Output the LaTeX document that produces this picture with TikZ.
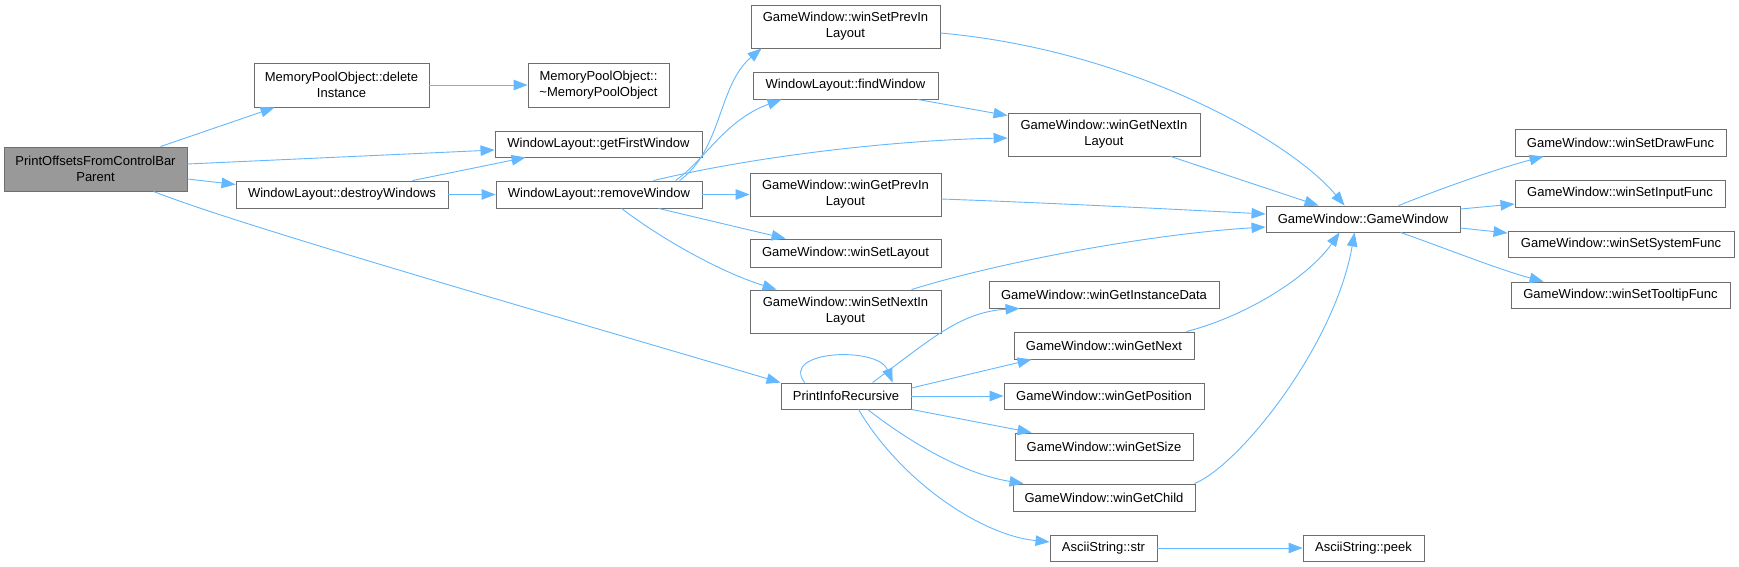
\documentclass[tikz,border=0pt]{standalone}
\usepackage{fontspec}
\setmainfont{Liberation Sans}
\usetikzlibrary{arrows.meta,calc}
\definecolor{edgec}{HTML}{63B8FF}
\definecolor{boxc}{HTML}{6E6E6E}
\definecolor{rootc}{HTML}{999999}
\begin{document}
\begin{tikzpicture}[x=1pt,y=-1pt,
  box/.style={draw=boxc, line width=0.9pt, fill=white, inner sep=0pt, align=center, font=\fontsize{13}{16}\selectfont},
  rootbox/.style={box, fill=rootc},
  edge/.style={draw=edgec, line width=0.9pt, -{Triangle[length=14pt,width=10.5pt]}}]
\useasboundingbox[fill=white] (0,0) rectangle (1739,567);
% nodes
\node[rootbox, minimum width=183pt, minimum height=44pt] (root) at (95.5,169) {PrintOffsetsFromControlBar\\Parent};
\node[box, minimum width=175pt, minimum height=44pt] (delI) at (341.5,85) {MemoryPoolObject::delete\\Instance};
\node[box, minimum width=141pt, minimum height=44pt] (dtor) at (598.5,85) {MemoryPoolObject::\\\textasciitilde MemoryPoolObject};
\node[box, minimum width=207pt, minimum height=26pt] (gfw) at (598.5,144) {WindowLayout::getFirstWindow};
\node[box, minimum width=212pt, minimum height=27pt] (dW) at (342,194.5) {WindowLayout::destroyWindows};
\node[box, minimum width=206pt, minimum height=27pt] (rW) at (599,194.5) {WindowLayout::removeWindow};
\node[box, minimum width=189pt, minimum height=43pt] (sPIL) at (845.5,26.5) {GameWindow::winSetPrevIn\\Layout};
\node[box, minimum width=185pt, minimum height=27pt] (fW) at (845.5,85.5) {WindowLayout::findWindow};
\node[box, minimum width=192pt, minimum height=43pt] (gNIL) at (1104,134.5) {GameWindow::winGetNextIn\\Layout};
\node[box, minimum width=191pt, minimum height=43pt] (gPIL) at (845.5,194.5) {GameWindow::winGetPrevIn\\Layout};
\node[box, minimum width=191pt, minimum height=28pt] (sL) at (845.5,253) {GameWindow::winSetLayout};
\node[box, minimum width=191pt, minimum height=43pt] (sNIL) at (845.5,311.5) {GameWindow::winSetNextIn\\Layout};
\node[box, minimum width=230pt, minimum height=27pt] (gID) at (1104,294.5) {GameWindow::winGetInstanceData};
\node[box, minimum width=180pt, minimum height=27pt] (gN) at (1104,345.5) {GameWindow::winGetNext};
\node[box, minimum width=200pt, minimum height=26pt] (gP) at (1104,396) {GameWindow::winGetPosition};
\node[box, minimum width=178pt, minimum height=27pt] (gS) at (1104,446.5) {GameWindow::winGetSize};
\node[box, minimum width=182pt, minimum height=27pt] (gC) at (1104,497.5) {GameWindow::winGetChild};
\node[box, minimum width=130pt, minimum height=26pt] (PIR) at (846,396) {PrintInfoRecursive};
\node[box, minimum width=107pt, minimum height=26pt] (str) at (1103.5,548) {AsciiString::str};
\node[box, minimum width=121pt, minimum height=26pt] (peek) at (1363.5,548) {AsciiString::peek};
\node[box, minimum width=194pt, minimum height=26pt] (GW) at (1363,219) {GameWindow::GameWindow};
\node[box, minimum width=211pt, minimum height=27pt] (dF) at (1620.5,142.5) {GameWindow::winSetDrawFunc};
\node[box, minimum width=210pt, minimum height=27pt] (iF) at (1620,193.5) {GameWindow::winSetInputFunc};
\node[box, minimum width=226pt, minimum height=26pt] (sF) at (1621,244) {GameWindow::winSetSystemFunc};
\node[box, minimum width=219pt, minimum height=26pt] (tF) at (1620.5,295) {GameWindow::winSetTooltipFunc};
% edges
\draw[edge] ($(root.north west)+(157,0)$) -- ($(delI.south west)+(21,0)$);
\draw[edge] ($(root.east)+(0,-5)$) -- ($(gfw.west)+(0,6)$);
\draw[edge] ($(root.east)+(0,10)$) -- ($(dW.west)+(0,-10)$);
\draw[edge] ($(root.south west)+(150,0)$) .. controls (230,222) and (500,300) .. (PIR.north west);
\draw[edge] (delI.east) -- (dtor.west);
\draw[edge] ($(dW.north west)+(177,0)$) -- ($(gfw.south west)+(31,0)$);
\draw[edge] (dW.east) -- (rW.west);
\draw[edge] ($(rW.north west)+(184,0)$) .. controls (722,150) and (718,85) .. ($(sPIL.south west)+(11,0)$);
\draw[edge] ($(rW.north west)+(180,0)$) .. controls (705,160) and (725,120) .. ($(fW.south west)+(29,0)$);
\draw[edge] ($(rW.north west)+(158,0)$) .. controls (760,155) and (900,140) .. ($(gNIL.west)+(0,3.5)$);
\draw[edge] (rW.east) -- (gPIL.west);
\draw[edge] ($(rW.south west)+(163,0)$) -- ($(sL.north west)+(36,0)$);
\draw[edge] ($(rW.south west)+(126,0)$) .. controls (660,238) and (720,272) .. ($(sNIL.north west)+(27,0)$);
\draw[edge] ($(sPIL.east)+(0,6.5)$) .. controls (1130,50) and (1290,140) .. ($(GW.north west)+(79,0)$);
\draw[edge] ($(fW.south west)+(165,0)$) -- ($(gNIL.north west)+(0,3)$);
\draw[edge] ($(gNIL.south west)+(163,0)$) -- ($(GW.north west)+(53,0)$);
\draw[edge] ($(gPIL.east)+(0,4.5)$) .. controls (1050,203) and (1150,208) .. ($(GW.west)+(0,-5)$);
\draw[edge] ($(sNIL.north west)+(162,0)$) .. controls (1000,262) and (1150,234) .. ($(GW.west)+(0,8)$);
\draw[edge] ($(PIR.north west)+(24,0)$) .. controls (780,350) and (878,346) .. ($(PIR.north west)+(112,0)$);
\draw[edge] ($(PIR.north west)+(92,0)$) .. controls (930,340) and (960,312) .. ($(gID.south west)+(31,0)$);
\draw[edge] ($(PIR.east)+(0,-8)$) -- ($(gN.south west)+(18,0)$);
\draw[edge] (PIR.east) -- (gP.west);
\draw[edge] (PIR.south east) -- ($(gS.north west)+(17,0)$);
\draw[edge] ($(PIR.south west)+(87,0)$) .. controls (920,450) and (970,475) .. ($(gC.north west)+(11,0)$);
\draw[edge] ($(PIR.south west)+(78,0)$) .. controls (900,480) and (980,535) .. ($(str.west)+(0,-6)$);
\draw[edge] (str.east) -- (peek.west);
\draw[edge] ($(gN.north east)+(-8,0)$) .. controls (1250,315) and (1310,275) .. ($(GW.south west)+(74,0)$);
\draw[edge] ($(gC.north east)+(-1,0)$) .. controls (1240,465) and (1335,345) .. ($(GW.south west)+(89,0)$);
\draw[edge] ($(GW.north west)+(133,0)$) .. controls (1450,185) and (1500,168) .. ($(dF.south west)+(29,0)$);
\draw[edge] ($(GW.east)+(0,-10)$) -- ($(iF.west)+(0,10.5)$);
\draw[edge] ($(GW.east)+(0,9)$) -- ($(sF.west)+(0,-11)$);
\draw[edge] ($(GW.south west)+(135,0)$) .. controls (1450,250) and (1500,270) .. ($(tF.north west)+(33,0)$);
\end{tikzpicture}
\end{document}
